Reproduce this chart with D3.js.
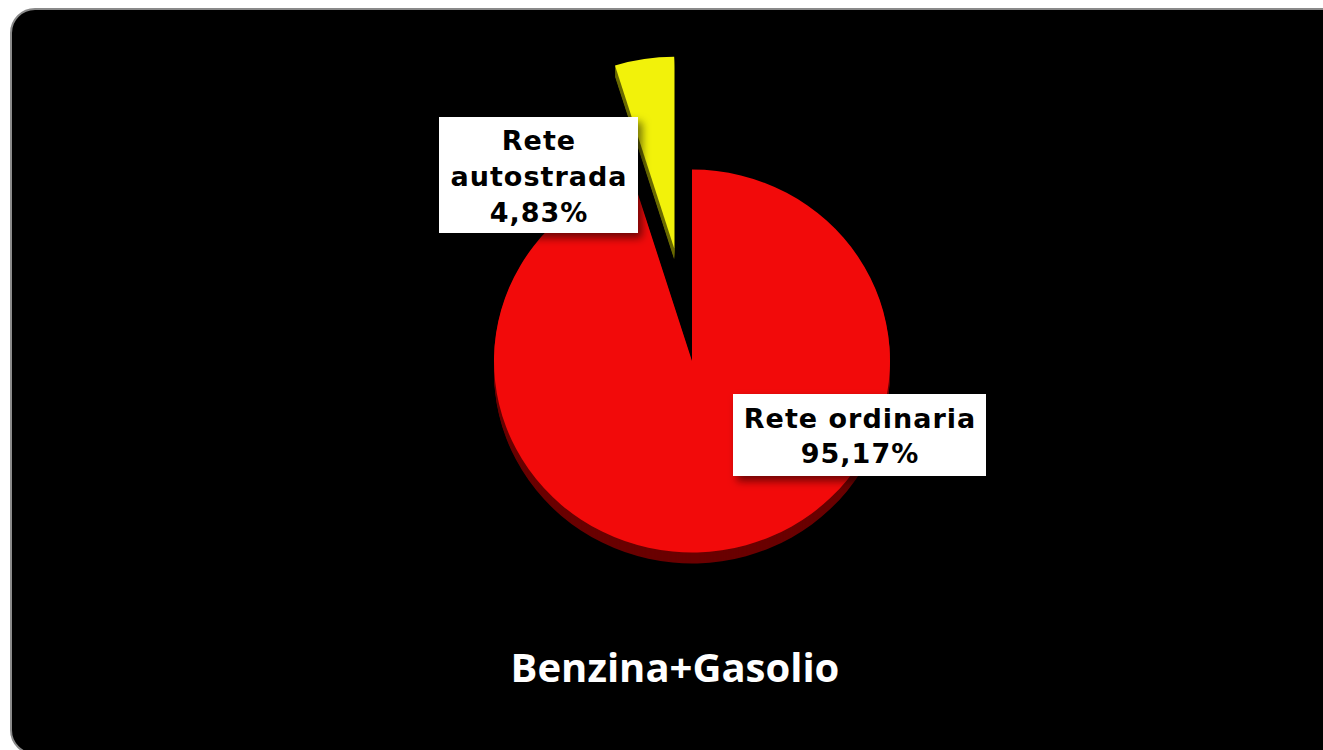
<!DOCTYPE html>
<html><head><meta charset="utf-8">
<script src="https://cdn.jsdelivr.net/npm/d3@7"></script>
<style>html,body{margin:0;padding:0;background:#fff;overflow:hidden}</style>
</head><body>
<svg id="chart" width="1323" height="750"></svg>
<script>
const categories = ["Rete ordinaria", "Rete autostrada"];
const values = [95.17, 4.83];
const valueLabels = ["95,17%", "4,83%"];
const title = "Benzina+Gasolio";
const colors = ["#f20a0a", "#f2f20a"];
const sideColors = ["#6a0000", "#6a6a00"];

const svg = d3.select("#chart");
const defs = svg.append("defs");
const f = defs.append("filter").attr("id","shadow").attr("x","-20%").attr("y","-20%").attr("width","140%").attr("height","150%");
f.append("feDropShadow").attr("dx",4).attr("dy",5).attr("stdDeviation",4).attr("flood-color","#000").attr("flood-opacity",0.55);

svg.append("rect").attr("x",11).attr("y",9).attr("width",1345).attr("height",745)
  .attr("rx",24).attr("fill","#000").attr("stroke","#8a8a8a").attr("stroke-width",2);

const cx = 692, cy = 361, r = 198, sy = 0.967, depth = 11, explode = 118;
const pie = d3.pie().sort(null).value(d => d)(values);
const arc = d3.arc().innerRadius(0).outerRadius(r);

function offset(d, i) {
  if (i !== 1) return [0, 0];
  const a = (d.startAngle + d.endAngle) / 2;
  return [Math.sin(a) * explode, -Math.cos(a) * explode];
}

const g = svg.append("g");
for (let k = depth; k >= 1; k--) {
  pie.forEach((d, i) => {
    const [ox, oy] = offset(d, i);
    g.append("path")
      .attr("transform", `translate(${cx},${cy + k}) scale(1,${sy}) translate(${ox},${oy})`)
      .attr("d", arc(d)).attr("fill", sideColors[i]);
  });
}
pie.forEach((d, i) => {
  const [ox, oy] = offset(d, i);
  g.append("path")
    .attr("transform", `translate(${cx},${cy}) scale(1,${sy}) translate(${ox},${oy})`)
    .attr("d", arc(d)).attr("fill", colors[i]);
});

const labelBoxes = [
  {x: 733, y: 394, w: 253, h: 82, lines: [categories[0], valueLabels[0]], y0: 428, dy: 35},
  {x: 439, y: 117, w: 199, h: 116, lines: ["Rete", "autostrada", valueLabels[1]], y0: 150, dy: 36}
];
labelBoxes.forEach(b => {
  svg.append("rect").attr("x", b.x).attr("y", b.y).attr("width", b.w).attr("height", b.h)
    .attr("fill", "#fff").attr("filter", "url(#shadow)");
  b.lines.forEach((t, j) => {
    svg.append("text").attr("x", b.x + b.w / 2 + 0.5).attr("y", b.y0 + j * b.dy)
      .attr("text-anchor", "middle").attr("font-family", "DejaVu Sans, Verdana, sans-serif")
      .attr("font-weight", "bold").attr("font-size", 27).attr("letter-spacing", 1)
      .attr("fill", "#000").text(t);
  });
});

svg.append("text").attr("x", 675).attr("y", 682).attr("text-anchor", "middle")
  .attr("font-family", "Open Sans, sans-serif").attr("font-weight", "bold")
  .attr("font-size", 40).attr("fill", "#fff").text(title);
</script>
</body></html>
